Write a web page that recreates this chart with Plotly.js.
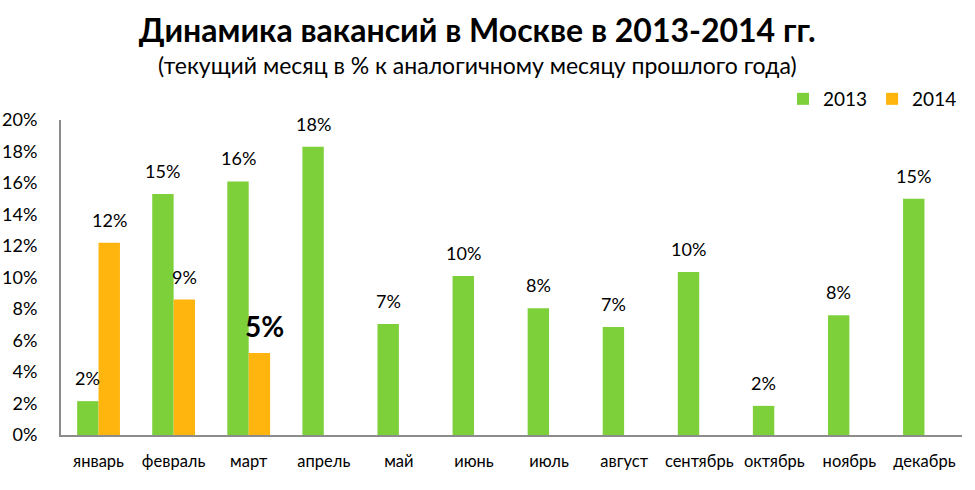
<!DOCTYPE html>
<html>
<head>
<meta charset="utf-8">
<script src="https://cdn.plot.ly/plotly-3.0.1.min.js"></script>
<style>
  body { margin: 0; background: #fff; }
  #chart { width: 975px; height: 490px; }
</style>
</head>
<body>
<div id="chart"></div>
<script>
// months and values (%)
const months = ['январь', 'февраль', 'март', 'апрель', 'май', 'июнь',
  'июль', 'август', 'сентябрь', 'октябрь', 'ноябрь', 'декабрь']
const vals2013 = [2.15, 15.3, 16.1, 18.3, 7.05, 10.1, 8.05, 6.85, 10.35, 1.85, 7.6, 15.0]
const vals2014 = [12.2, 8.6, 5.2, null, null, null, null, null, null, null, null, null]
const yTicks = [0, 2, 4, 6, 8, 10, 12, 14, 16, 18, 20]

const green = '#7ED03B'
const orange = '#FFB50D'
const font = 'Lato, "Open Sans", sans-serif'

const W = 975, H = 490
const margin = { l: 61, r: 13, t: 120, b: 55 }
const bargap = 0.43
const catW = (W - margin.l - margin.r) / months.length
const barW = catW * (1 - bargap) / 2

const traces = [
  { type: 'bar', name: '2013', x: months, y: vals2013, marker: { color: green } },
  { type: 'bar', name: '2014', x: months, y: vals2014, marker: { color: orange } }
]

// value labels above bars
const labels = []
function addLabels(vals, shift, big) {
  vals.forEach((v, i) => {
    if (v == null) return
    let isBig = big && i == 2
    labels.push({
      x: months[i], y: v, xref: 'x', yref: 'y',
      text: Math.round(v) + '%', showarrow: false,
      xanchor: 'center', yanchor: 'bottom',
      xshift: shift + (isBig ? 5 : 0), yshift: isBig ? 8 : 10,
      font: { family: font, size: isBig ? 28 : 18, color: '#000', weight: isBig ? 'bold' : 'normal' }
    })
  })
}
addLabels(vals2013, -barW / 2, false)
addLabels(vals2014, barW / 2, true)

labels.push({
  text: '(текущий месяц в % к аналогичному месяцу прошлого года)',
  xref: 'paper', yref: 'paper', x: 0.462, y: (H - margin.b - 65) / (H - margin.t - margin.b),
  xanchor: 'center', yanchor: 'middle', showarrow: false,
  font: { family: font, size: 23, color: '#000' }
})

const layout = {
  width: W, height: H,
  margin: margin,
  paper_bgcolor: '#fff', plot_bgcolor: '#fff',
  font: { family: font, color: '#000' },
  title: {
    text: '<b>Динамика вакансий в Москве в 2013-2014 гг.</b>',
    x: 0.462, xanchor: 'center', xref: 'paper',
    y: 1 - 31 / H, yanchor: 'middle', yref: 'container',
    font: { family: font, size: 32, color: '#000' }
  },
  barmode: 'group',
  bargap: bargap,
  bargroupgap: 0,
  showlegend: true,
  legend: {
    orientation: 'h', x: 1, xanchor: 'right',
    y: (H - margin.b - 99) / (H - margin.t - margin.b), yanchor: 'middle',
    font: { family: font, size: 19, color: '#000' },
    traceorder: 'normal'
  },
  xaxis: {
    showgrid: false, showline: true, linecolor: '#8c8c8c', linewidth: 2,
    ticks: '', ticklabelstandoff: 10,
    tickfont: { family: font, size: 16.5, color: '#000' }
  },
  yaxis: {
    range: [0, 20], tickvals: yTicks, ticktext: yTicks.map(t => t + '%'),
    showgrid: false, zeroline: false, showline: true, linecolor: '#8c8c8c', linewidth: 2,
    ticks: '', ticklabelstandoff: 18,
    tickfont: { family: font, size: 18, color: '#000' }
  },
  annotations: labels
}

Plotly.newPlot('chart', traces, layout, { displayModeBar: false, staticPlot: true })
</script>
</body>
</html>
